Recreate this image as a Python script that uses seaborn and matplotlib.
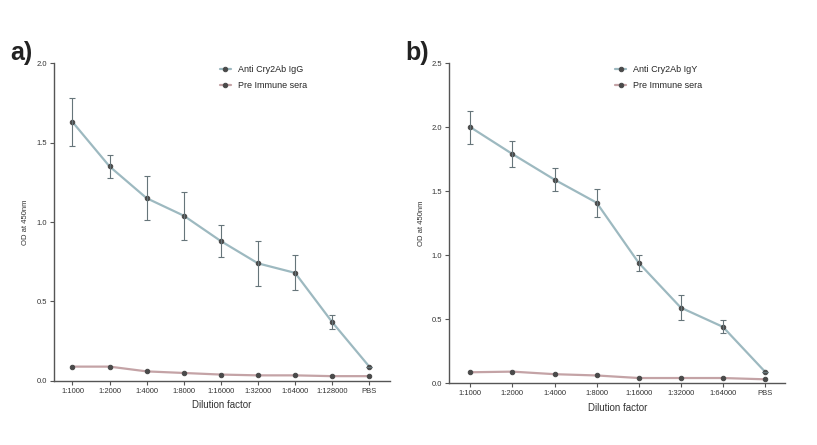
import pandas as pd
import matplotlib
matplotlib.use("Agg")
import matplotlib.pyplot as plt
import seaborn as sns

# -----------------------------------------------------------
# Data
# -----------------------------------------------------------
dilutions_a = ["1:1000", "1:2000", "1:4000", "1:8000", "1:16000", "1:32000", "1:64000", "1:128000", "PBS"]
igg_mean = [1.63, 1.35, 1.15, 1.04, 0.88, 0.74, 0.68, 0.37, 0.09]
igg_err = [0.15, 0.075, 0.14, 0.15, 0.10, 0.14, 0.11, 0.045, 0.0]
pre_a = [0.09, 0.09, 0.06, 0.05, 0.04, 0.035, 0.035, 0.03, 0.03]

dilutions_b = ["1:1000", "1:2000", "1:4000", "1:8000", "1:16000", "1:32000", "1:64000", "PBS"]
igy_mean = [2.0, 1.79, 1.59, 1.41, 0.94, 0.59, 0.44, 0.09]
igy_err = [0.13, 0.10, 0.09, 0.11, 0.06, 0.10, 0.05, 0.0]
pre_b = [0.085, 0.09, 0.07, 0.06, 0.04, 0.04, 0.04, 0.03]

ANTI_COLOR = "#9db9c0"
PRE_COLOR = "#c4a3a6"
MARK_COLOR = "#4a4a4a"

sns.set_theme(style="ticks")
plt.rcParams["font.family"] = ["Liberation Sans", "DejaVu Sans"]

fig = plt.figure(figsize=(8.17, 4.45), dpi=100)
ax_a = fig.add_axes([0.066, 0.144, 0.411, 0.714])
ax_b = fig.add_axes([0.550, 0.139, 0.411, 0.719])


def draw_panel(ax, cats, mean, err, pre, anti_label, ymax, xpad):
    x = list(range(len(cats)))
    df = pd.DataFrame({"x": x + x,
                       "od": list(mean) + list(pre),
                       "serum": [anti_label] * len(x) + ["Pre Immune sera"] * len(x)})
    sns.lineplot(data=df, x="x", y="od", hue="serum",
                 palette={anti_label: ANTI_COLOR, "Pre Immune sera": PRE_COLOR},
                 marker="o", markersize=3.2, markerfacecolor=MARK_COLOR,
                 markeredgecolor=MARK_COLOR, linewidth=1.6, ax=ax)
    ax.errorbar(x, mean, yerr=err, fmt="none", ecolor="#66757a",
                elinewidth=0.8, capsize=2.5, capthick=0.8, zorder=3)

    ax.set_xlim(-0.5, len(cats) - 1 + xpad)
    ax.set_ylim(0, ymax)
    ax.set_xticks(x)
    ax.set_xticklabels(cats, fontsize=5.5, color="#333333")
    yt = [i * 0.5 for i in range(int(ymax / 0.5) + 1)]
    ax.set_yticks(yt)
    ax.set_yticklabels([f"{v:.1f}" for v in yt], fontsize=5.5, color="#333333")
    ax.tick_params(length=3, width=0.8, color="#555555", pad=2)
    ax.set_xlabel("Dilution factor", fontsize=7, color="#333333", labelpad=4)
    ax.set_ylabel("OD at 450nm", fontsize=5.5, color="#333333", labelpad=5)
    for s in ["left", "bottom"]:
        ax.spines[s].set_color("#555555")
        ax.spines[s].set_linewidth(1.0)
    sns.despine(ax=ax)
    ax.legend(loc="upper left", bbox_to_anchor=(0.47, 1.02), frameon=False,
              fontsize=6.5, handlelength=1.2, labelspacing=0.8, title=None)


draw_panel(ax_a, dilutions_a, igg_mean, igg_err, pre_a, "Anti Cry2Ab IgG", 2.0, 0.55)
draw_panel(ax_b, dilutions_b, igy_mean, igy_err, pre_b, "Anti Cry2Ab IgY", 2.5, 0.48)

fig.text(0.012, 0.865, "a)", fontsize=18, fontweight="bold", color="#222222")
fig.text(0.496, 0.865, "b)", fontsize=18, fontweight="bold", color="#222222")

fig.savefig("out.png", dpi=100)
